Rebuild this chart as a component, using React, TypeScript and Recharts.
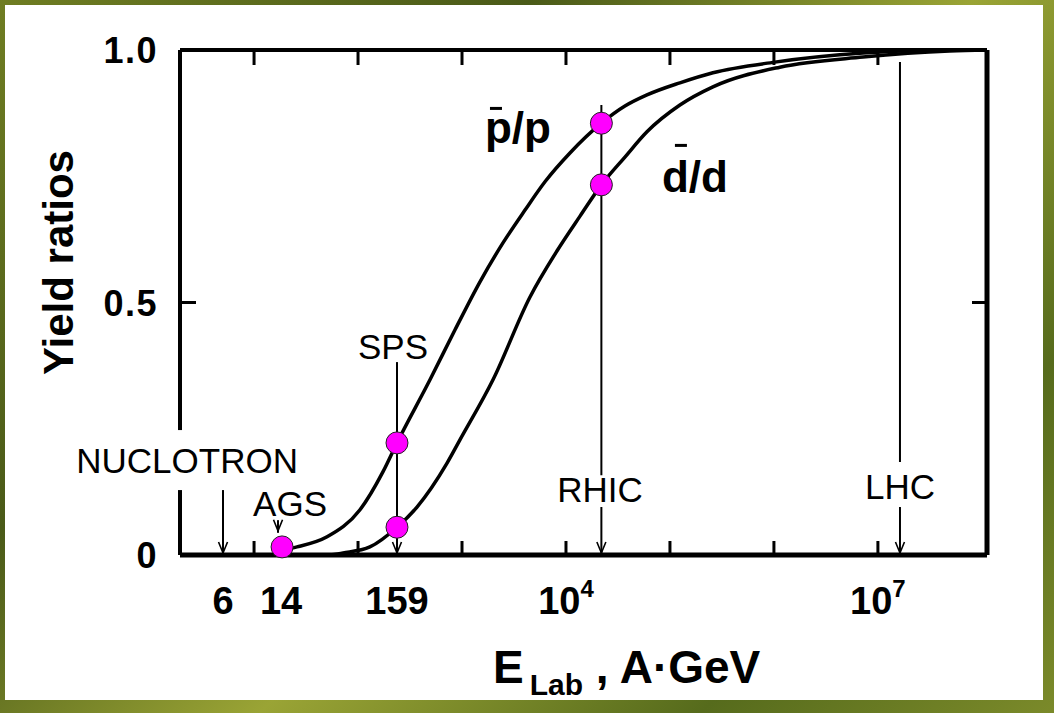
import React from "react";
import { ComposedChart, Line, Scatter, XAxis, YAxis, ReferenceLine } from "recharts";

// ── Axis setup (E_lab in A·GeV, log scale) ─────────────────────────────────
const X_DOMAIN: [number, number] = [1.94, 1.12e8];
const DECADES = [10, 100, 1e3, 1e4, 1e5, 1e6, 1e7];
const X_TICKS = [5.03, 18.2, 237, 1e4, 1e7];
const X_TICK_LABELS = ["6", "14", "159", "10^4", "10^7"];
const Y_TICKS = [0, 0.5, 1];
const Y_TICK_LABELS = ["0", "0.5", "1.0"];

// ── Curves ────────────────────────────────────────────────────────────────
const PBAR_E = [18.6, 25.9, 50.4, 104, 174, 237, 492, 857, 1489, 2477, 4036, 6280, 10920, 21900, 36900, 60100, 124700, 259000, 1020000, 7200000, 49000000, 112000000];
const PBAR_R = [0.010, 0.016, 0.036, 0.089, 0.165, 0.222, 0.347, 0.446, 0.541, 0.618, 0.683, 0.739, 0.796, 0.855, 0.889, 0.911, 0.935, 0.955, 0.976, 0.994, 1.0, 1.0];

const DBAR_E = [53.7, 71.8, 130, 237, 369, 718, 955, 1986, 4508, 8185, 13650, 21900, 36900, 60100, 124700, 259000, 1140000, 7200000, 49000000, 112000000];
const DBAR_R = [0.0, 0.004, 0.016, 0.055, 0.095, 0.182, 0.228, 0.347, 0.511, 0.602, 0.671, 0.733, 0.788, 0.838, 0.891, 0.927, 0.966, 0.986, 0.998, 1.0];

// measured points (magenta dots)
const DOT_E = [18.6, 237, 237, 21900, 21900];
const DOT_R = [0.016, 0.222, 0.055, 0.855, 0.733];

// accelerators: label position, arrow tip, vertical line pieces
const ACC_NAMES = ["NUCLOTRON", "AGS", "SPS", "RHIC", "LHC"];
const ACC_LABEL_E = [2.27, 22.2, 217, 21200, 1.63e7];
const ACC_LABEL_R = [0.186, 0.101, 0.412, 0.129, 0.135];
const ACC_E = [5.03, 17.0, 237, 21900, 1.63e7];
const ACC_TIP_R = [0, 0.044, 0, 0, 0];
const SEGMENTS: [number, number, number][] = [
  // [E, from, to]
  [5.03, 0, 0.152],
  [17.0, 0.044, 0.069],
  [237, 0, 0.382],
  [21900, 0, 0.095],
  [21900, 0.158, 0.891],
  [1.63e7, 0, 0.095],
  [1.63e7, 0.184, 0.976],
];

const CURVE_LABELS = ["p/p", "d/d"];
const CURVE_LABEL_E = [1663, 83700];
const CURVE_LABEL_R = [0.816, 0.719];

const pbar = PBAR_E.map((x, i) => ({ x, y: PBAR_R[i] }));
const dbar = DBAR_E.map((x, i) => ({ x, y: DBAR_R[i] }));
const dots = DOT_E.map((x, i) => ({ x, y: DOT_R[i] }));
const accLabels = ACC_NAMES.map((name, i) => ({ x: ACC_LABEL_E[i], y: ACC_LABEL_R[i], name }));
const tips = ACC_E.map((x, i) => ({ x, y: ACC_TIP_R[i] }));
const curveLabels = CURVE_LABELS.map((name, i) => ({ x: CURVE_LABEL_E[i], y: CURVE_LABEL_R[i], name }));

const FONT = "'Liberation Sans', Arial, Helvetica, sans-serif";

const NoTick = () => null;

function XTick({ x, y, payload }: any) {
  const i = X_TICKS.indexOf(payload.value);
  const lab = X_TICK_LABELS[i] ?? "";
  const [base, sup] = lab.split("^");
  return (
    <text x={x} y={y + 59} textAnchor="middle" fontFamily={FONT} fontWeight="bold" fontSize={38} fill="#000">
      {base}
      {sup && <tspan dy={-17} fontSize={24}>{sup}</tspan>}
    </text>
  );
}

function YTick({ x, y, payload }: any) {
  const i = Y_TICKS.indexOf(payload.value);
  return (
    <text x={x} y={y + 13} textAnchor="end" fontFamily={FONT} fontWeight="bold" fontSize={36} letterSpacing={1.5} fill="#000">
      {Y_TICK_LABELS[i]}
    </text>
  );
}

function AccLabel({ cx, cy, payload }: any) {
  const nuc = payload.name === "NUCLOTRON";
  return (
    <g>
      {nuc && <rect x={cx - 118} y={cy - 31} width={236} height={60} fill="#fff" />}
      <text x={cx} y={cy + 12} textAnchor="middle" fontFamily={FONT} fontSize={35} fill="#000">
        {payload.name}
      </text>
    </g>
  );
}

function CurveLabel({ cx, cy, payload }: any) {
  const isP = payload.name === "p/p";
  return (
    <g>
      <rect x={cx + (isP ? 5 : 13)} y={cy - (isP ? 36 : 48)} width={12} height={3} fill="#000" />
      <text x={cx} y={cy} fontFamily={FONT} fontWeight="bold" fontSize={44} fill="#000">
        {payload.name}
      </text>
    </g>
  );
}

function Tip({ cx, cy }: any) {
  return <path d={`M${cx - 4.5},${cy - 13} L${cx},${cy - 2} L${cx + 4.5},${cy - 13}`} stroke="#000" strokeWidth={1.6} fill="none" />;
}

function Dot({ cx, cy }: any) {
  return <circle cx={cx} cy={cy} r={11} fill="#ff00ff" stroke="#222" strokeWidth={1} />;
}

function YTitle({ viewBox }: any) {
  const cx = viewBox.x + 58;
  const cy = viewBox.y + viewBox.height / 2 - 40;
  return (
    <text x={cx} y={cy} transform={`rotate(-90 ${cx} ${cy})`} textAnchor="middle" dominantBaseline="central"
      fontFamily={FONT} fontWeight="bold" fontSize={42} fill="#000">
      Yield ratios
    </text>
  );
}

function XTitle({ viewBox }: any) {
  const x = viewBox.x + 313;
  const y = viewBox.y + 128;
  return (
    <text x={x} y={y} fontFamily={FONT} fontWeight="bold" fontSize={46} fill="#000">
      E
      <tspan dx={6} dy={12} fontSize={30}>Lab</tspan>
      <tspan dy={-12} fontSize={46}>{" , A·GeV"}</tspan>
    </text>
  );
}

const tickLine = { stroke: "#000", strokeWidth: 3 };

export default function App() {
  return (
    <div style={{ position: "relative", width: 1054, height: 713, background: "linear-gradient(135deg, #6f7d22 0%, #4a5a18 30%, #9aa435 55%, #566b1c 80%, #7b8a2a 100%)" }}>
      <style>{"body{margin:0}"}</style>
      <div style={{ position: "absolute", left: 5, top: 5, width: 1038, height: 695, background: "#fff" }} />
      <div style={{ position: "absolute", left: 0, top: 0 }}>
        <ComposedChart width={1054} height={713} margin={{ top: 50, right: 67, bottom: 0, left: 0 }}>
          <XAxis xAxisId="lab" dataKey="x" type="number" scale="log" domain={X_DOMAIN}
            ticks={X_TICKS} tick={<XTick />} tickLine={false} tickSize={0} tickMargin={0} height={158}
            axisLine={{ stroke: "#000", strokeWidth: 5 }} interval={0} label={<XTitle />} />
          <XAxis xAxisId="bot" dataKey="x" type="number" scale="log" domain={X_DOMAIN} allowDataOverflow
            ticks={DECADES} mirror tick={<NoTick />} tickSize={14} axisLine={false} interval={0}
            tickLine={tickLine} />
          <XAxis xAxisId="top" orientation="top" dataKey="x" type="number" scale="log" domain={X_DOMAIN} allowDataOverflow
            ticks={DECADES} mirror tick={<NoTick />} tickSize={15} interval={0}
            axisLine={{ stroke: "#000", strokeWidth: 4 }} tickLine={tickLine} />
          <YAxis yAxisId="main" dataKey="y" type="number" domain={[0, 1]} ticks={Y_TICKS} width={180}
            tick={<YTick />} tickLine={false} tickSize={0} tickMargin={22} interval={0}
            axisLine={{ stroke: "#000", strokeWidth: 4 }} label={<YTitle />} />
          <YAxis yAxisId="lt" dataKey="y" type="number" domain={[0, 1]} allowDataOverflow ticks={[0.5]} mirror tick={<NoTick />}
            tickSize={16} axisLine={false} tickLine={tickLine} interval={0} />
          <YAxis yAxisId="rt" orientation="right" dataKey="y" type="number" domain={[0, 1]} allowDataOverflow ticks={[0.5]} mirror tick={<NoTick />}
            tickSize={15} axisLine={{ stroke: "#000", strokeWidth: 5 }} tickLine={tickLine} interval={0} />

          {SEGMENTS.map(([e, a, b], i) => (
            <ReferenceLine key={i} xAxisId="lab" yAxisId="main" stroke="#000" strokeWidth={2}
              segment={[{ x: e, y: a }, { x: e, y: b }]} />
          ))}

          <Line xAxisId="lab" yAxisId="main" data={pbar} dataKey="y" type="monotone" stroke="#000" strokeWidth={3.5}
            dot={false} activeDot={false} isAnimationActive={false} />
          <Line xAxisId="lab" yAxisId="main" data={dbar} dataKey="y" type="monotone" stroke="#000" strokeWidth={3.5}
            dot={false} activeDot={false} isAnimationActive={false} />

          <Scatter xAxisId="lab" yAxisId="main" data={tips} dataKey="y" shape={<Tip />} isAnimationActive={false} />
          <Scatter xAxisId="lab" yAxisId="main" data={dots} dataKey="y" shape={<Dot />} isAnimationActive={false} />
          <Scatter xAxisId="lab" yAxisId="main" data={accLabels} dataKey="y" shape={<AccLabel />} isAnimationActive={false} />
          <Scatter xAxisId="lab" yAxisId="main" data={curveLabels} dataKey="y" shape={<CurveLabel />} isAnimationActive={false} />
        </ComposedChart>
      </div>
    </div>
  );
}
